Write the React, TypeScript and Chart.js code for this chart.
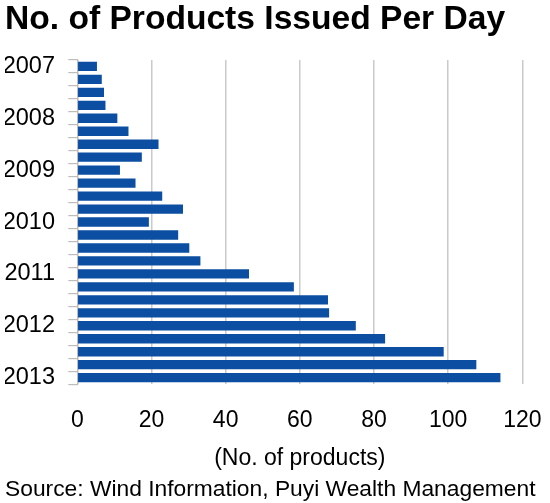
import React, { useEffect, useRef } from "react";
import { Chart, registerables } from "chart.js";

Chart.register(...registerables);

const quarters = [
  "2007Q1", "2007Q2", "2007Q3", "2007Q4",
  "2008Q1", "2008Q2", "2008Q3", "2008Q4",
  "2009Q1", "2009Q2", "2009Q3", "2009Q4",
  "2010Q1", "2010Q2", "2010Q3", "2010Q4",
  "2011Q1", "2011Q2", "2011Q3", "2011Q4",
  "2012Q1", "2012Q2", "2012Q3", "2012Q4",
  "2013Q1",
];

const productsPerDay = [
  5.3, 6.6, 7.2, 7.6,
  10.8, 13.8, 21.9, 17.4,
  11.5, 15.7, 22.9, 28.5,
  19.3, 27.2, 30.2, 33.2,
  46.3, 58.4, 67.6, 67.9,
  75.1, 83.0, 98.8, 107.6,
  114.1,
];

const xTicks = [0, 20, 40, 60, 80, 100, 120];

const titleText = "No. of Products Issued Per Day";
const xAxisTitle = "(No. of products)";
const sourceText = "Source: Wind Information, Puyi Wealth Management";

const FONT = "'Liberation Sans', Arial, Helvetica, sans-serif";

export default function App() {
  const ref = useRef<HTMLCanvasElement | null>(null);

  useEffect(() => {
    document.body.style.margin = "0";
    if (!ref.current) return;
    const chart = new Chart(ref.current, {
      type: "bar",
      data: {
        labels: quarters,
        datasets: [
          {
            data: productsPerDay,
            backgroundColor: "#0b4ea2",
            borderWidth: 0,
            barPercentage: 0.72,
            categoryPercentage: 1,
          },
        ],
      },
      options: {
        indexAxis: "y",
        responsive: false,
        animation: false,
        layout: { padding: { left: 5, right: 5, top: 0, bottom: 0 } },
        plugins: {
          legend: { display: false },
          tooltip: { enabled: false },
          title: {
            display: true,
            text: titleText,
            align: "start",
            color: "#000",
            font: { family: FONT, size: 33.6, weight: "bold", lineHeight: 1.2 },
            padding: { top: 0, bottom: 19.6 },
          },
          subtitle: {
            display: true,
            text: sourceText,
            position: "bottom",
            align: "start",
            color: "#000",
            font: { family: FONT, size: 22.8, weight: "normal", lineHeight: 1.2 },
            padding: { top: 0, bottom: 0 },
          },
        },
        scales: {
          x: {
            type: "linear",
            min: 0,
            max: 120,
            afterBuildTicks: (axis: any) => {
              axis.ticks = xTicks.map((v) => ({ value: v }));
            },
            afterFit: (axis: any) => {
              axis.height = 91.5;
            },
            grid: {
              color: "#cacaca",
              lineWidth: 1.5,
              drawTicks: true,
              tickLength: 14.2,
              tickColor: "rgba(0,0,0,0)",
            },
            border: { display: false },
            ticks: {
              color: "#000",
              padding: 8.5,
              font: { family: FONT, size: 23, lineHeight: 1.2 },
            },
            title: {
              display: true,
              text: xAxisTitle,
              color: "#000",
              font: { family: FONT, size: 23, lineHeight: 1.2 },
              padding: { top: 10.9, bottom: 3.1 },
            },
          },
          y: {
            type: "category",
            offset: true,
            afterFit: (axis: any) => {
              axis.width = 72.3;
            },
            grid: {
              offset: true,
              drawOnChartArea: false,
              drawTicks: true,
              tickLength: 9,
              color: "#bdbdbd",
              lineWidth: 1.2,
            },
            border: { display: true, color: "#bdbdbd", width: 1.2 },
            ticks: {
              autoSkip: false,
              color: "#000",
              padding: 13.3,
              font: { family: FONT, size: 23.5, lineHeight: 1.2 },
              callback: (_v: any, i: number) =>
                quarters[i].endsWith("Q1") ? quarters[i].slice(0, 4) : "",
            },
          },
        },
      },
    });
    return () => chart.destroy();
  }, []);

  return (
    <div style={{ width: 550, height: 503 }}>
      <canvas ref={ref} width={550} height={503} style={{ display: "block" }} />
    </div>
  );
}
